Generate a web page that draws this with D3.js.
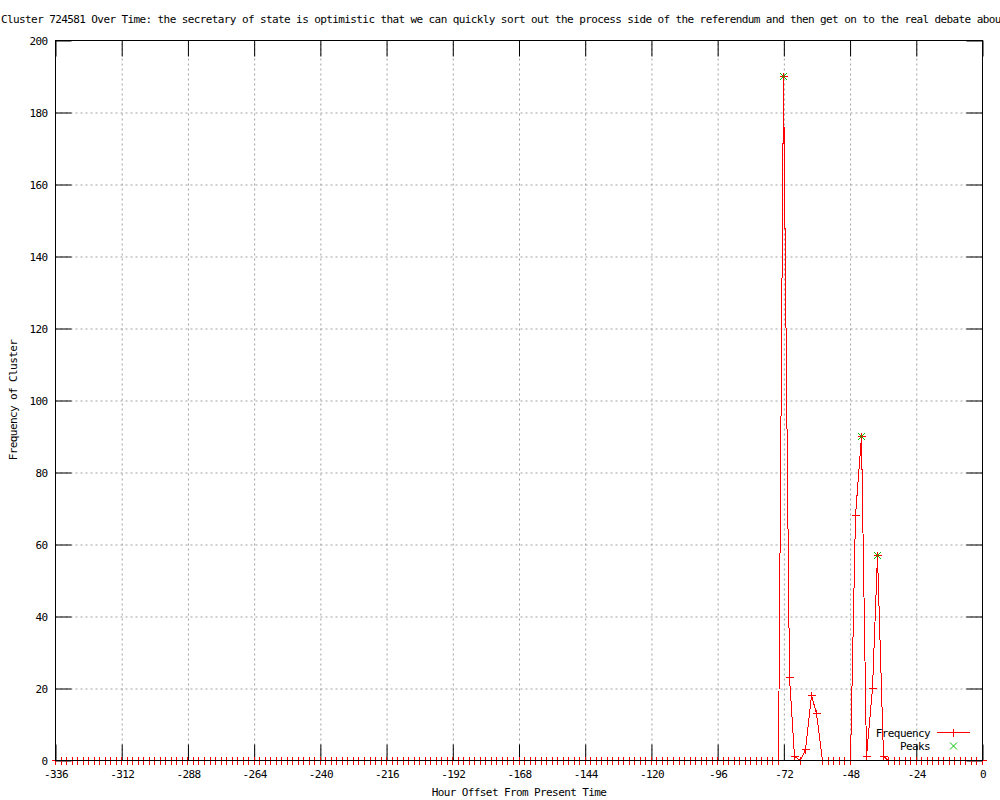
<!DOCTYPE html>
<html>
<head>
<meta charset="utf-8">
<script src="https://cdn.jsdelivr.net/npm/d3@7"></script>
<style>
    body { margin: 0; background: #fff; }
    text { font-family: "DejaVu Sans Mono", monospace; font-size: 11px; letter-spacing: -0.6px; fill: #000; }
</style>
</head>
<body>
<div id="chart"></div>
<script>
// hour offsets (every 2 hours)
var hours = [
    -336, -334, -332, -330, -328, -326, -324, -322, -320, -318, -316, -314,
    -312, -310, -308, -306, -304, -302, -300, -298, -296, -294, -292, -290,
    -288, -286, -284, -282, -280, -278, -276, -274, -272, -270, -268, -266,
    -264, -262, -260, -258, -256, -254, -252, -250, -248, -246, -244, -242,
    -240, -238, -236, -234, -232, -230, -228, -226, -224, -222, -220, -218,
    -216, -214, -212, -210, -208, -206, -204, -202, -200, -198, -196, -194,
    -192, -190, -188, -186, -184, -182, -180, -178, -176, -174, -172, -170,
    -168, -166, -164, -162, -160, -158, -156, -154, -152, -150, -148, -146,
    -144, -142, -140, -138, -136, -134, -132, -130, -128, -126, -124, -122,
    -120, -118, -116, -114, -112, -110, -108, -106, -104, -102, -100, -98,
    -96, -94, -92, -90, -88, -86, -84, -82, -80, -78, -76, -74,
    -72, -70, -68, -66, -64, -62, -60, -58, -56, -54, -52, -50,
    -48, -46, -44, -42, -40, -38, -36, -34, -32, -30, -28, -26,
    -24, -22, -20, -18, -16, -14, -12, -10, -8, -6, -4, -2,
    0
];

// frequency of cluster at each hour
var frequency = [
    0, 0, 0, 0, 0, 0, 0, 0, 0, 0, 0, 0,
    0, 0, 0, 0, 0, 0, 0, 0, 0, 0, 0, 0,
    0, 0, 0, 0, 0, 0, 0, 0, 0, 0, 0, 0,
    0, 0, 0, 0, 0, 0, 0, 0, 0, 0, 0, 0,
    0, 0, 0, 0, 0, 0, 0, 0, 0, 0, 0, 0,
    0, 0, 0, 0, 0, 0, 0, 0, 0, 0, 0, 0,
    0, 0, 0, 0, 0, 0, 0, 0, 0, 0, 0, 0,
    0, 0, 0, 0, 0, 0, 0, 0, 0, 0, 0, 0,
    0, 0, 0, 0, 0, 0, 0, 0, 0, 0, 0, 0,
    0, 0, 0, 0, 0, 0, 0, 0, 0, 0, 0, 0,
    0, 0, 0, 0, 0, 0, 0, 0, 0, 0, 0, 0,
    190, 23, 1, 0, 3, 18, 13, 0, 0, 0, 0, 0,
    0, 68, 90, 1, 20, 57, 1, 0, 0, 0, 0, 0,
    0, 0, 0, 0, 0, 0, 0, 0, 0, 0, 0, 0,
    0
];

// peaks
var peakHours = [-72, -44, -38];
var peakValues = [190, 90, 57];

// tick labels
var xTicks = [-336, -312, -288, -264, -240, -216, -192, -168, -144, -120, -96, -72, -48, -24, 0];
var yTicks = [0, 20, 40, 60, 80, 100, 120, 140, 160, 180, 200];

var title = "Cluster 724581 Over Time: the secretary of state is optimistic that we can quickly sort out the process side of the referendum and then get on to the real debate about";

window.onload = function() {
    draw();
};

function draw() {
    var width = 1000;
    var height = 800;
    var plot = {left: 55, right: 982, top: 40, bottom: 760};
    var ticklen = 16;

    var svg = d3.select("#chart").append("svg")
        .attr("width", width).attr("height", height);

    var xscale = d3.scaleLinear().domain([-336, 0]).range([plot.left, plot.right]);
    var yscale = d3.scaleLinear().domain([0, 200]).range([plot.bottom, plot.top]);

    var g = svg.append("g").attr("transform", "translate(0.5,0.5)");

    // grid
    g.append("g")
        .attr("transform", "translate(0," + plot.bottom + ")")
        .call(d3.axisBottom(xscale).tickValues(xTicks.slice(1, -1))
            .tickSize(-(plot.bottom - plot.top)).tickFormat(""))
        .call(function(a) {
            a.select(".domain").remove();
            a.selectAll("line").attr("stroke", "#a0a0a0").attr("stroke-dasharray", "2,3");
        });
    g.append("g")
        .attr("transform", "translate(" + plot.left + ",0)")
        .call(d3.axisLeft(yscale).tickValues(yTicks.slice(1, -1))
            .tickSize(-(plot.right - plot.left)).tickFormat(""))
        .call(function(a) {
            a.select(".domain").remove();
            a.selectAll("line").attr("stroke", "#a0a0a0").attr("stroke-dasharray", "2,3");
        });

    // axes with inward ticks
    var bottom = g.append("g")
        .attr("transform", "translate(0," + plot.bottom + ")")
        .call(d3.axisBottom(xscale).tickValues(xTicks).tickSize(-ticklen).tickPadding(10)
            .tickFormat(function(d) { return String(d).replace("\u2212", "-"); }));
    var left = g.append("g")
        .attr("transform", "translate(" + plot.left + ",0)")
        .call(d3.axisLeft(yscale).tickValues(yTicks).tickSize(-ticklen).tickPadding(8));
    var top = g.append("g")
        .attr("transform", "translate(0," + plot.top + ")")
        .call(d3.axisTop(xscale).tickValues(xTicks).tickSize(-ticklen).tickFormat(""));
    var right = g.append("g")
        .attr("transform", "translate(" + plot.right + ",0)")
        .call(d3.axisRight(yscale).tickValues(yTicks).tickSize(-ticklen).tickFormat(""));
    [bottom, left, top, right].forEach(function(a) {
        a.select(".domain").remove();
        a.attr("font-family", null).attr("font-size", null);
        a.selectAll("line").attr("stroke", "#000");
    });

    // frequency line
    var line = d3.line()
        .x(function(d, i) { return Math.round(xscale(hours[i])); })
        .y(function(d) { return Math.round(yscale(d)); });
    g.append("path")
        .datum(frequency)
        .attr("d", line)
        .attr("fill", "none")
        .attr("stroke", "#ff0000")
        .attr("stroke-width", 1)
        .attr("shape-rendering", "crispEdges");

    // '+' markers
    g.selectAll(".pt").data(frequency).enter().append("path")
        .attr("class", "pt")
        .attr("transform", function(d, i) {
            return "translate(" + Math.round(xscale(hours[i])) + "," + Math.round(yscale(d)) + ")";
        })
        .attr("d", "M-4,0H4M0,-4V4")
        .attr("fill", "none")
        .attr("stroke", "#ff0000")
        .attr("shape-rendering", "crispEdges");

    // border
    g.append("rect")
        .attr("x", plot.left).attr("y", plot.top)
        .attr("width", plot.right - plot.left).attr("height", plot.bottom - plot.top)
        .attr("fill", "none").attr("stroke", "#000");

    // peaks 'x' markers
    g.selectAll(".peak").data(peakValues).enter().append("path")
        .attr("class", "peak")
        .attr("transform", function(d, i) {
            return "translate(" + Math.round(xscale(peakHours[i])) + "," + Math.round(yscale(d)) + ")";
        })
        .attr("d", "M-3.5,-3.5L3.5,3.5M-3.5,3.5L3.5,-3.5")
        .attr("stroke", "#00c000");

    // legend
    svg.append("text").text("Frequency").attr("x", 930).attr("y", 737).attr("text-anchor", "end");
    svg.append("path").attr("d", "M937,732.5H970M953.5,728.5V736.5")
        .attr("stroke", "#ff0000").attr("shape-rendering", "crispEdges");
    svg.append("text").text("Peaks").attr("x", 930).attr("y", 750).attr("text-anchor", "end");
    svg.append("path").attr("d", "M950,742.5L957,749.5M950,749.5L957,742.5")
        .attr("stroke", "#00c000");

    // titles
    svg.append("text").text(title).attr("x", 1).attr("y", 23);
    svg.append("text").text("Hour Offset From Present Time")
        .attr("x", 519).attr("y", 796).attr("text-anchor", "middle");
    svg.append("text").text("Frequency of Cluster")
        .attr("text-anchor", "middle")
        .attr("transform", "translate(17,400) rotate(-90)");
}
</script>
</body>
</html>
